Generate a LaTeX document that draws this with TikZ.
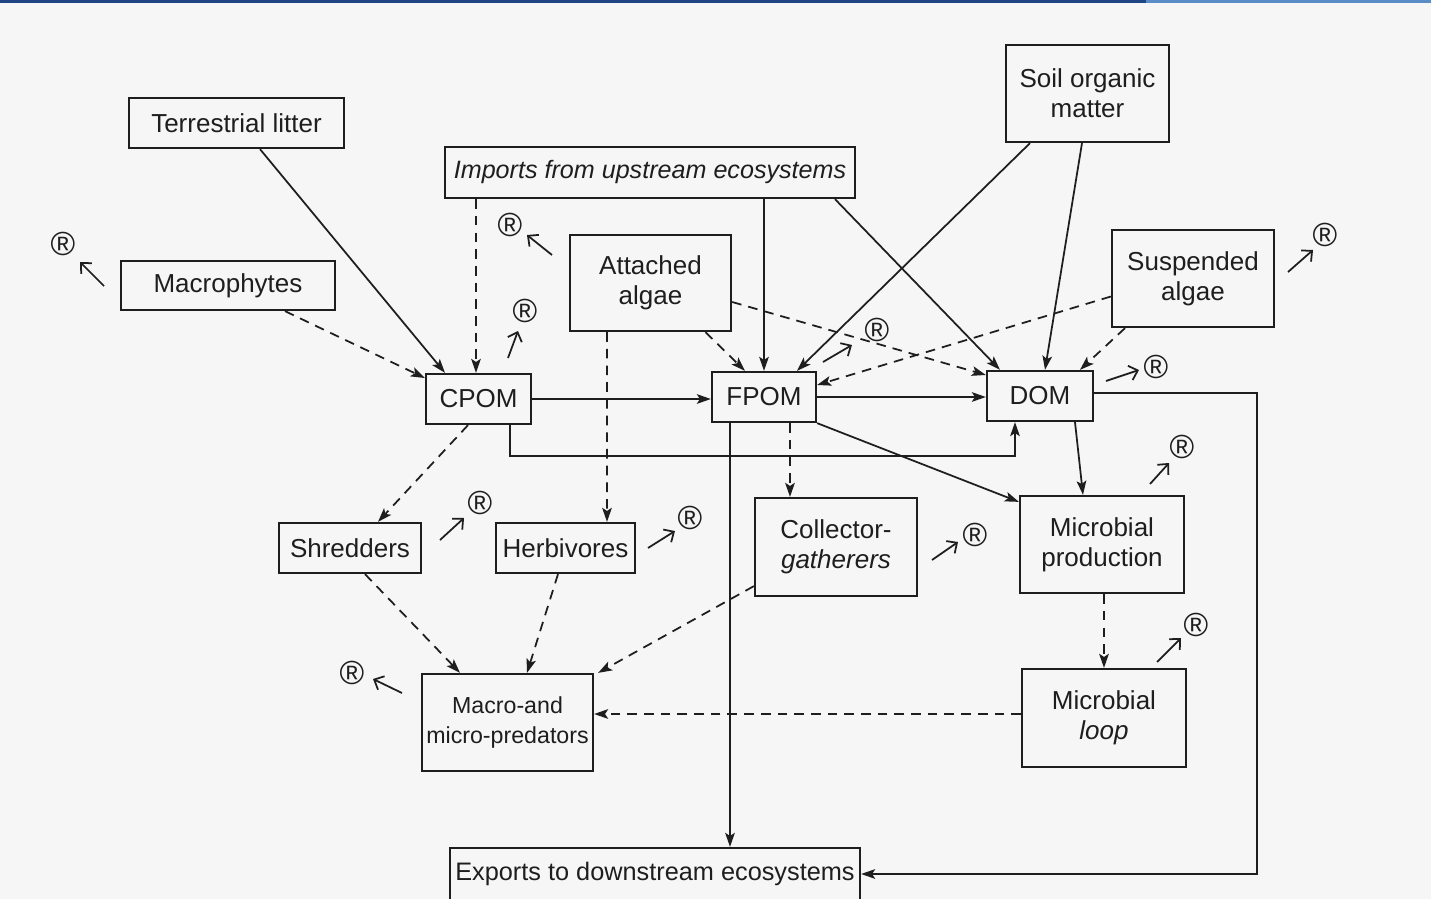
\documentclass[tikz,border=0pt]{standalone}
\usepackage{fontspec}
\setmainfont{Liberation Sans}
\usetikzlibrary{arrows.meta,calc}
\definecolor{barA}{RGB}{31,70,130}
\definecolor{barB}{RGB}{90,140,200}
\definecolor{paper}{RGB}{246,246,246}
\definecolor{ink}{RGB}{30,30,30}
\begin{document}
\begin{tikzpicture}[x=0.02cm,y=-0.02cm,
  box/.style={draw=ink, line width=1.3pt, inner sep=0pt, align=center, text=ink, font=\fontsize{14.8}{17}\selectfont},
  arr/.style={draw=ink, line width=1pt, -{Stealth[length=8pt,width=5.5pt,inset=1.8pt]}},
  dsh/.style={arr, dash pattern=on 5.5pt off 4pt},
  resp/.style={draw=ink, line width=1pt, -{Straight Barb[length=4.5pt,width=8.5pt]}},
  rr/.style={font=\fontsize{19}{19}\selectfont, inner sep=0pt, text=ink}]
\fill[paper] (0,0) rectangle (1431,899);
\useasboundingbox (0,0) rectangle (1431,899);
\fill[barA] (0,0) rectangle (1146,3);
\fill[barB] (1146,0) rectangle (1431,3);

% nodes
\node[box, minimum width=4.30cm, minimum height=1.00cm] (TL) at (236.5,123) {Terrestrial litter};
\node[box, minimum width=4.28cm, minimum height=0.98cm] (MP) at (228,285.5) {Macrophytes};
\node[box, minimum width=8.20cm, minimum height=1.02cm, font=\fontsize{14.3}{17}\selectfont] (IMP) at (650,172.5) {\itshape Imports from upstream ecosystems};
\node[box, minimum width=3.22cm, minimum height=1.92cm] (AA) at (650.5,283) {Attached\\algae};
\node[box, minimum width=3.26cm, minimum height=1.94cm] (SOM) at (1087.5,93.5) {Soil organic\\matter};
\node[box, minimum width=3.24cm, minimum height=1.94cm] (SA) at (1193,278.5) {Suspended\\algae};
\node[box, minimum width=2.10cm, minimum height=1.00cm] (CPOM) at (478.5,399) {CPOM};
\node[box, minimum width=2.08cm, minimum height=1.00cm] (FPOM) at (764,397) {FPOM};
\node[box, minimum width=2.12cm, minimum height=1.00cm] (DOM) at (1040,396) {DOM};
\node[box, minimum width=2.84cm, minimum height=1.00cm] (SH) at (350,548) {Shredders};
\node[box, minimum width=2.78cm, minimum height=1.00cm] (HB) at (565.5,548) {Herbivores};
\node[box, minimum width=3.24cm, minimum height=1.96cm] (CG) at (836,547) {Collector-\\\itshape gatherers};
\node[box, minimum width=3.28cm, minimum height=1.94cm] (MPR) at (1102,544.5) {Microbial\\production};
\node[box, minimum width=3.42cm, minimum height=1.94cm, font=\fontsize{13.2}{17}\selectfont] (PRED) at (507.5,722.5) {Macro-and\\micro-predators};
\node[box, minimum width=3.28cm, minimum height=1.96cm] (ML) at (1104,718) {Microbial\\\itshape loop};
\node[box, minimum width=8.20cm, minimum height=1.04cm, font=\fontsize{14.4}{17}\selectfont] (EXP) at (655,874) {Exports to downstream ecosystems};

% connectors
\draw[arr] ($(TL.south)+(23.5,0)$) -- ($(CPOM.north)+(-33.5,0)$);
\draw[dsh] ($(IMP.south)+(-174,0)$) -- ($(CPOM.north)+(-2.5,0)$);
\draw[dsh] ($(MP.south)+(57,0)$) -- ($(CPOM.west)+(0,-21)$);
\draw[arr] (CPOM.east) -- (CPOM.east -| FPOM.west);
\draw[arr] ($(IMP.south)+(114,0)$) -- (FPOM.north);
\draw[arr] ($(IMP.south)+(185,0)$) -- ($(DOM.north)+(-40,0)$);
\draw[arr] ($(SOM.south)+(-57.5,0)$) -- ($(FPOM.north)+(33,0)$);
\draw[arr] ($(SOM.south)+(-5.5,0)$) -- ($(DOM.north)+(5,0)$);
\draw[dsh] ($(AA.south)+(55,0)$) -- ($(FPOM.north)+(-19,0)$);
\draw[dsh] ($(AA.east)+(0,19)$) -- ($(DOM.west)+(0,-21)$);
\draw[dsh] ($(SA.west)+(0,18)$) -- ($(FPOM.east)+(0,-12)$);
\draw[dsh] ($(SA.south)+(-68,0)$) -- ($(DOM.north)+(40,0)$);
\draw[arr] (FPOM.east) -- (FPOM.east -| DOM.west);
\draw[arr] ($(CPOM.south)+(31.5,0)$) |- ($(DOM.south)+(-25,34)$) -- ($(DOM.south)+(-25,0)$);
\draw[dsh] ($(AA.south)+(-43.5,0)$) -- ($(HB.north)+(41.5,0)$);
\draw[dsh] ($(CPOM.south)+(-10.5,0)$) -- ($(SH.north)+(28,0)$);
\draw[dsh] ($(FPOM.south)+(26,0)$) -- ($(CG.north)+(-46,0)$);
\draw[arr] ($(FPOM.south)+(-34,0)$) -- ($(EXP.north)+(75,0)$);
\draw[arr] (FPOM.south east) -- ($(MPR.north west)+(0,7)$);
\draw[arr] ($(DOM.south)+(35,0)$) -- ($(MPR.north)+(-19,0)$);
\coordinate (R) at (1257,874);
\draw[arr] ($(DOM.east)+(0,-3)$) -| (R) -- (EXP.east);
\draw[dsh] ($(MPR.south)+(2,0)$) -- (ML.north);
\draw[dsh] ($(ML.west)+(0,-4)$) -- ($(PRED.east)+(0,-8.5)$);
\draw[dsh] ($(SH.south)+(15,0)$) -- ($(PRED.north)+(-47.5,0)$);
\draw[dsh] ($(HB.south)+(-7.5,0)$) -- ($(PRED.north)+(19.5,0)$);
\draw[dsh] ($(CG.south west)+(0,-11)$) -- ($(PRED.north east)+(4,0)$);

% respiration
\node[rr] (r1) at (63,244) {®};
\draw[resp] (104,286) -- (80,262);
\node[rr] (r2) at (510,225) {®};
\draw[resp] (552,255) -- (527,235);
\node[rr] (r3) at (525,311) {®};
\draw[resp] (508,358) -- (518,331);
\node[rr] (r4) at (877,330) {®};
\draw[resp] (823,362) -- (852,345);
\node[rr] (r5) at (1325,235) {®};
\draw[resp] (1288,272) -- (1313,250);
\node[rr] (r6) at (1156,367) {®};
\draw[resp] (1106,381) -- (1139,370);
\node[rr] (r7) at (480,503) {®};
\draw[resp] (440,540) -- (464,518);
\node[rr] (r8) at (690,518) {®};
\draw[resp] (648,548) -- (675,531);
\node[rr] (r9) at (975,535) {®};
\draw[resp] (932,560) -- (958,542);
\node[rr] (r10) at (1182,447) {®};
\draw[resp] (1150,484) -- (1169,463);
\node[rr] (r11) at (1196,625) {®};
\draw[resp] (1157,662) -- (1181,638);
\node[rr] (r12) at (352,673) {®};
\draw[resp] (402,693) -- (373,679);
\end{tikzpicture}
\end{document}
